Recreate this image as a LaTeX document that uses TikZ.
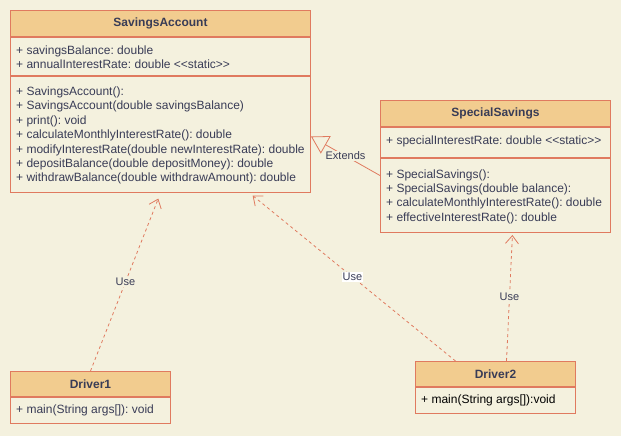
\documentclass[tikz,border=0pt]{standalone}
\usepackage{fontspec}
\setmainfont{Liberation Sans}
\usetikzlibrary{arrows.meta, positioning}

\definecolor{umlbg}{HTML}{F4F1DE}
\definecolor{umlhead}{HTML}{F2CC8F}
\definecolor{umlline}{HTML}{E07A5F}
\definecolor{umltext}{HTML}{393C56}

\tikzset{
  classhead/.style={draw=umlline, fill=umlhead, line width=1pt, anchor=north west,
    minimum height=26pt, inner sep=0pt, text=umltext,
    font=\fontsize{12}{14.4}\selectfont\bfseries},
  classbody/.style={draw=umlline, line width=1pt, anchor=north west, inner sep=0pt},
  membertext/.style={anchor=west, inner sep=0pt, align=left, text=umltext,
    font=\fontsize{12}{14.4}\selectfont\frenchspacing},
  uselink/.style={umlline, line width=0.8pt, dash pattern=on 3pt off 3pt,
    -{Straight Barb[length=8pt, width=13pt]}},
  linklabel/.style={fill=umlbg, inner sep=1pt, text=umltext, font=\fontsize{11}{13}\selectfont},
}

\begin{document}
\begin{tikzpicture}[x=1pt, y=-1pt]
  % Page
  \fill[umlbg] (0,0) rectangle (621,436);
  \useasboundingbox (0,0) rectangle (621,436);

  % SavingsAccount class
  \node[classhead, minimum width=300pt] (savingsHead) at (10,10) {SavingsAccount};
  \node[classbody, minimum width=300pt, minimum height=38pt] (savingsAttrs) at (savingsHead.south west) {};
  \node[classbody, minimum width=300pt, minimum height=116pt] (savingsOps) at (savingsAttrs.south west) {};
  \node[membertext] (savingsAttrsText) at ([xshift=6pt, yshift=-1pt]savingsAttrs.west)
    {+ savingsBalance: double\\+ annualInterestRate: double <{}<static>{}>};
  \node[membertext] (savingsOpsText) at ([xshift=6pt, yshift=-1pt]savingsOps.west)
    {+ SavingsAccount():\\
     + SavingsAccount(double savingsBalance)\\
     + print(): void\\
     + calculateMonthlyInterestRate(): double\\
     + modifyInterestRate(double newInterestRate): double\\
     + depositBalance(double depositMoney): double\\
     + withdrawBalance(double withdrawAmount): double};

  % SpecialSavings class
  \node[classhead, minimum width=230pt] (specialHead) at (380,100) {SpecialSavings};
  \node[classbody, minimum width=230pt, minimum height=30pt] (specialAttrs) at (specialHead.south west) {};
  \node[classbody, minimum width=230pt, minimum height=74pt] (specialOps) at (specialAttrs.south west) {};
  \node[membertext] (specialAttrsText) at ([xshift=6pt, yshift=1pt]specialAttrs.west)
    {+ specialInterestRate: double <{}<static>{}>};
  \node[membertext] (specialOpsText) at ([xshift=6pt, yshift=-1pt]specialOps.west)
    {+ SpecialSavings():\\
     + SpecialSavings(double balance):\\
     + calculateMonthlyInterestRate(): double\\
     + effectiveInterestRate(): double};

  % Drivers
  \node[classhead, minimum width=160pt, minimum height=25pt] (driverOneHead) at (10,371) {Driver1};
  \node[classbody, minimum width=160pt, minimum height=26pt] (driverOneOps) at (driverOneHead.south west) {};
  \node[membertext] (driverOneText) at ([xshift=6pt]driverOneOps.west) {+ main(String args[]): void};

  \node[classhead, minimum width=160pt, minimum height=25pt] (driverTwoHead) at (415,361) {Driver2};
  \node[classbody, minimum width=160pt, minimum height=26pt] (driverTwoOps) at (driverTwoHead.south west) {};
  \node[membertext, text=black] (driverTwoText) at ([xshift=6pt]driverTwoOps.west) {+ main(String args[]):void};

  % Inheritance
  \draw[umlline, line width=0.8pt, -{Triangle[open, length=17pt, width=20pt]}]
    ([yshift=20pt]specialOps.west) -- node[linklabel] {Extends} ([yshift=-2pt]savingsOps.east);

  % Dependencies
  \draw[uselink, shorten >=6pt] (driverOneHead.north) -- node[linklabel] {Use} (savingsOps.south);
  \draw[uselink, shorten >=4pt] ([xshift=-40pt]driverTwoHead.north)
    -- node[linklabel, fill=white] {Use} ([xshift=89pt]savingsOps.south);
  \draw[uselink, shorten >=2pt] ([xshift=11pt]driverTwoHead.north)
    -- node[linklabel] {Use} ([xshift=17pt]specialOps.south);
\end{tikzpicture}
\end{document}
